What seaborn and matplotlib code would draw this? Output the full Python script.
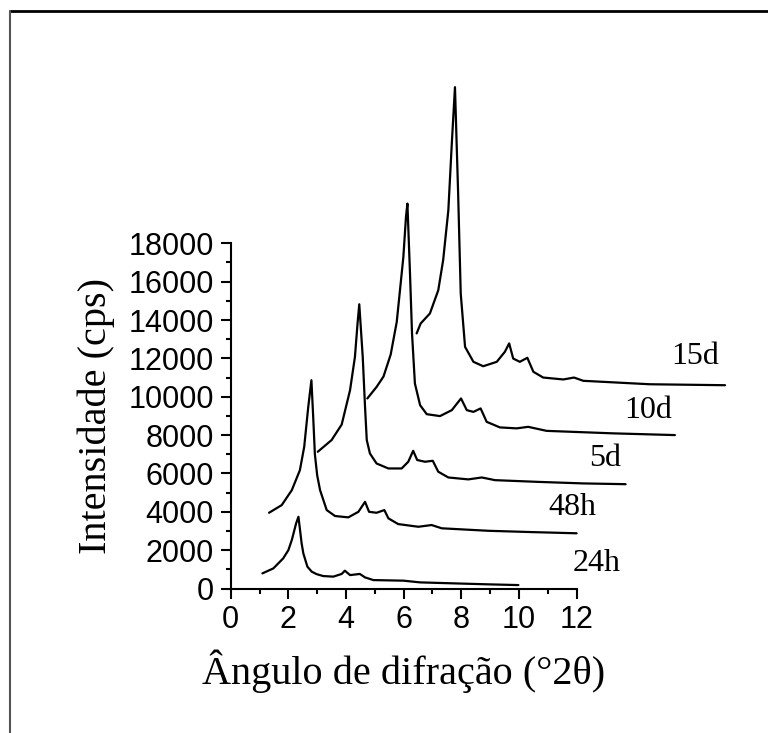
import numpy as np
import pandas as pd
import seaborn as sns
import matplotlib.pyplot as plt
from matplotlib.lines import Line2D
from matplotlib.ticker import MultipleLocator

# curves (already shifted in x and y like the original waterfall)
x24 = [1.10, 1.48, 1.82, 2.00, 2.12, 2.27, 2.35, 2.46, 2.52, 2.66, 2.81, 2.98, 3.21, 3.56, 3.85, 3.96, 4.14, 4.48, 4.66, 4.95, 5.99, 6.57, 7.72, 8.88, 9.98]
y24 = [790, 1050, 1570, 2000, 2530, 3400, 3740, 2360, 1830, 1140, 880, 750, 650, 620, 760, 930, 700, 760, 580, 440, 410, 320, 270, 220, 180]

x48 = [1.33, 1.77, 2.12, 2.40, 2.55, 2.69, 2.80, 2.86, 2.92, 3.00, 3.10, 3.33, 3.62, 4.08, 4.43, 4.66, 4.80, 5.06, 5.33, 5.47, 5.81, 6.51, 6.97, 7.32, 8.94, 10.5, 12.0]
y48 = [3950, 4350, 5130, 6170, 7390, 9470, 10860, 9000, 7000, 5900, 5130, 4090, 3780, 3710, 4000, 4520, 4000, 3950, 4090, 3660, 3360, 3220, 3310, 3140, 3010, 2940, 2880]

x5d = [3.02, 3.50, 3.85, 4.14, 4.31, 4.40, 4.46, 4.58, 4.66, 4.72, 4.83, 5.06, 5.47, 5.93, 6.16, 6.33, 6.47, 6.74, 7.01, 7.20, 7.55, 8.24, 8.71, 9.17, 10.67, 12.23, 13.70]
y5d = [7130, 7740, 8550, 10340, 12080, 13820, 14820, 12080, 9470, 7740, 7040, 6520, 6260, 6260, 6610, 7180, 6700, 6610, 6660, 6090, 5790, 5690, 5790, 5650, 5560, 5480, 5440]

x10d = [4.74, 5.06, 5.30, 5.55, 5.76, 5.99, 6.08, 6.13, 6.22, 6.29, 6.39, 6.57, 6.80, 7.26, 7.67, 7.99, 8.19, 8.42, 8.67, 8.88, 9.34, 9.92, 10.32, 10.96, 13.27, 15.41]
y10d = [9910, 10510, 11050, 12200, 13900, 17290, 19370, 20070, 16420, 13300, 10690, 9560, 9090, 8990, 9300, 9910, 9300, 9210, 9390, 8690, 8400, 8350, 8430, 8220, 8090, 8000]

x15d = [6.45, 6.59, 6.91, 7.20, 7.37, 7.55, 7.67, 7.78, 7.89, 7.98, 8.13, 8.42, 8.76, 9.23, 9.51, 9.66, 9.80, 10.03, 10.29, 10.50, 10.84, 11.54, 11.91, 12.23, 14.54, 17.15]
y15d = [13300, 13820, 14340, 15550, 17120, 19720, 23200, 26140, 20590, 15380, 12600, 11820, 11590, 11820, 12340, 12780, 11990, 11820, 12030, 11300, 11000, 10900, 11000, 10830, 10650, 10600]

names = ["24h", "48h", "5d", "10d", "15d"]
label_x = [12.70, 11.84, 12.98, 14.48, 16.10]
label_y = [1280, 4250, 6800, 9300, 12110]

curves = [(x24, y24), (x48, y48), (x5d, y5d), (x10d, y10d), (x15d, y15d)]
df = pd.concat([pd.DataFrame({"angle": cx, "cps": cy, "amostra": n})
                for n, (cx, cy) in zip(names, curves)], ignore_index=True)

sns.set_theme(style="ticks")
plt.rcParams["font.family"] = ["Liberation Sans", "DejaVu Sans"]
plt.rcParams.update({"text.color": "black", "axes.labelcolor": "black",
                     "xtick.color": "black", "ytick.color": "black"})
serif = ["Liberation Serif", "DejaVu Serif"]

fig = plt.figure(figsize=(7.68, 7.33), dpi=100)
ax = fig.add_axes([0.3004, 0.1971, 0.4504, 0.4710])

for n in names:
    sns.lineplot(data=df[df["amostra"] == n], x="angle", y="cps", ax=ax,
                 color="black", lw=1.6, sort=False, estimator=None, clip_on=False)

for n, lx, ly in zip(names, label_x, label_y):
    ax.text(lx, ly, n, ha="center", va="center", fontsize=23,
            family=serif, clip_on=False)

ax.set_xlim(0, 12)
ax.set_ylim(0, 18000)
ax.xaxis.set_major_locator(MultipleLocator(2))
ax.xaxis.set_minor_locator(MultipleLocator(1))
ax.yaxis.set_major_locator(MultipleLocator(2000))
ax.yaxis.set_minor_locator(MultipleLocator(1000))
ax.tick_params(which="major", length=7, width=1.5, labelsize=22, pad=5)
ax.tick_params(which="minor", length=3.5, width=1.5)
sns.despine(ax=ax)
for s in ["left", "bottom"]:
    ax.spines[s].set_linewidth(1.5)
    ax.spines[s].set_color("black")

ax.set_xlabel("Ângulo de difração (°2θ)", fontsize=29, family=serif, labelpad=10)
ax.set_ylabel("Intensidade (cps)", fontsize=29, family=serif, labelpad=10)

# frame around the picture (top and left edges visible)
fig.add_artist(Line2D([10 / 768, 1.0], [1 - 11 / 733, 1 - 11 / 733], color="black", lw=2))
fig.add_artist(Line2D([10 / 768, 10 / 768], [0.0, 1 - 11 / 733], color="#555555", lw=1.5))

fig.savefig("out.png", dpi=100)
